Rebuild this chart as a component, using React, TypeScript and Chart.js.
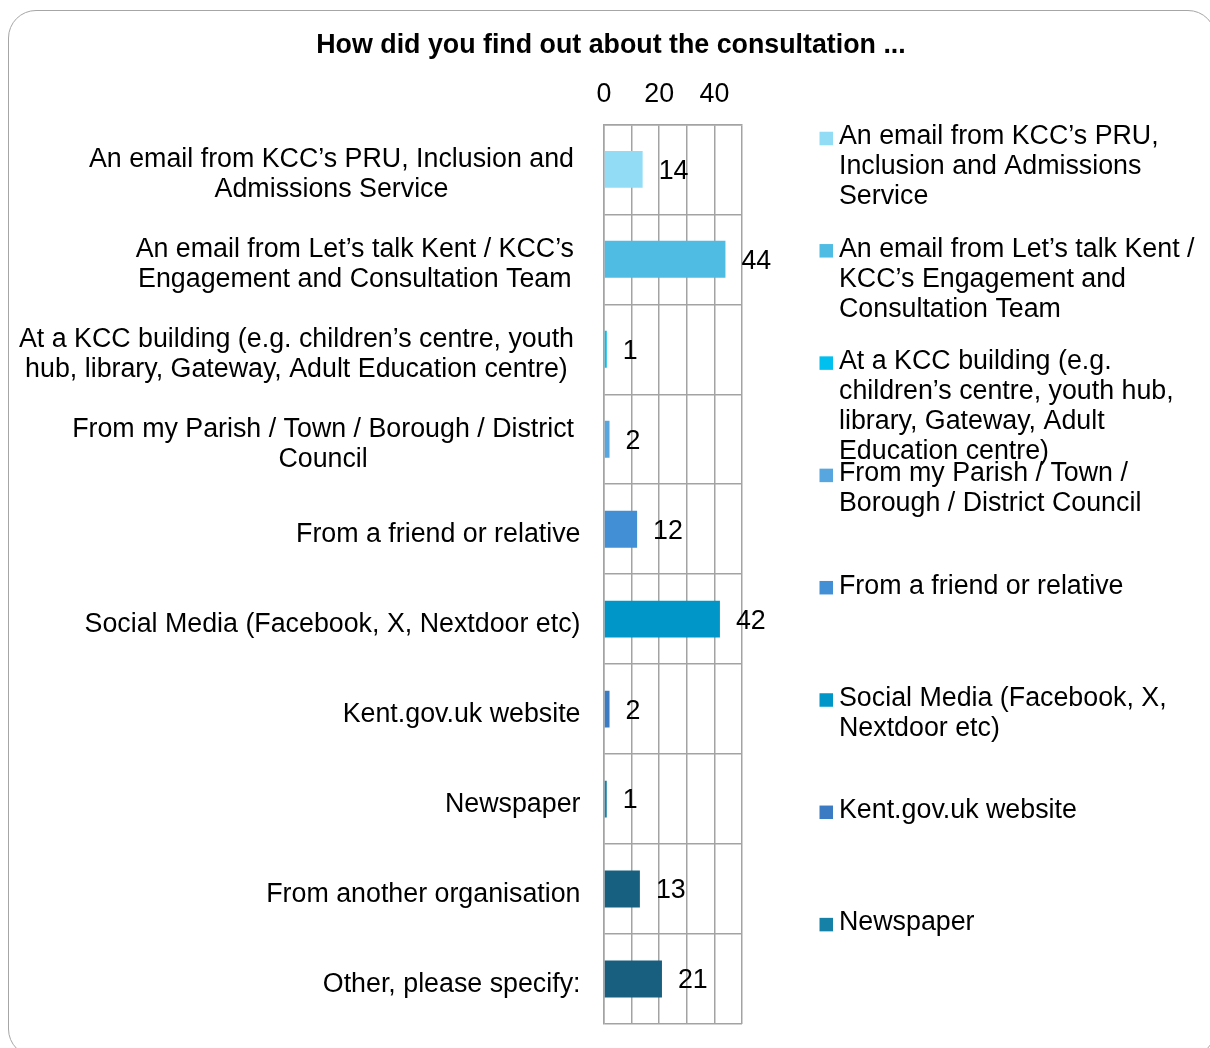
import React, { useEffect, useRef } from "react";
import { Chart, registerables } from "chart.js";

Chart.register(...registerables);

const TITLE = "How did you find out about the consultation ...";

const categories = [
  "An email from KCC’s PRU, Inclusion and Admissions Service",
  "An email from Let’s talk Kent / KCC’s Engagement and Consultation Team",
  "At a KCC building (e.g. children’s centre, youth hub, library, Gateway, Adult Education centre)",
  "From my Parish / Town / Borough / District Council",
  "From a friend or relative",
  "Social Media (Facebook, X, Nextdoor etc)",
  "Kent.gov.uk website",
  "Newspaper",
  "From another organisation",
  "Other, please specify:",
];

const axisLabelLines = [
  ["An email from KCC’s PRU, Inclusion and", "Admissions Service"],
  ["An email from Let’s talk Kent / KCC’s", "Engagement and Consultation Team"],
  ["At a KCC building (e.g. children’s centre, youth", "hub, library, Gateway, Adult Education centre)"],
  ["From my Parish / Town / Borough / District", "Council"],
  ["From a friend or relative"],
  ["Social Media (Facebook, X, Nextdoor etc)"],
  ["Kent.gov.uk website"],
  ["Newspaper"],
  ["From another organisation"],
  ["Other, please specify:"],
];

const legendLines = [
  ["An email from KCC’s PRU,", "Inclusion and Admissions", "Service"],
  ["An email from Let’s talk Kent /", "KCC’s Engagement and", "Consultation Team"],
  ["At a KCC building (e.g.", "children’s centre, youth hub,", "library, Gateway, Adult", "Education centre)"],
  ["From my Parish / Town /", "Borough / District Council"],
  ["From a friend or relative"],
  ["Social Media (Facebook, X,", "Nextdoor etc)"],
  ["Kent.gov.uk website"],
  ["Newspaper"],
];

const values = [14, 44, 1, 2, 12, 42, 2, 1, 13, 21];

const barColors = [
  "#93DCF6",
  "#4FBCE3",
  "#00C0F0",
  "#57A6E0",
  "#428FD5",
  "#0096C8",
  "#3B7BC3",
  "#1581A6",
  "#17607F",
  "#185E7E",
];

const xTicksShown = [0, 20, 40];
const X_MIN = 0;
const X_MAX = 50;
const X_STEP = 10;

const FONT = '"Liberation Sans", Arial, Helvetica, sans-serif';
const FS = 26.8;
const GRID = "#a3a3a3";

const overlayPlugin = {
  id: "overlay",
  afterDraw(chart: any) {
    const ctx = chart.ctx as CanvasRenderingContext2D;
    const yScale = chart.scales.y;
    ctx.save();
    ctx.fillStyle = "#000";
    ctx.textBaseline = "middle";

    // title
    ctx.font = `bold ${FS}px ${FONT}`;
    ctx.textAlign = "center";
    ctx.fillText(TITLE, 611, 46);

    // category labels
    ctx.font = `${FS}px ${FONT}`;
    axisLabelLines.forEach((lines, i) => {
      const cy = yScale.getPixelForValue(i) + 5.5;
      const n = lines.length;
      if (n === 1) {
        ctx.textAlign = "right";
        ctx.fillText(lines[0], 580.5, cy);
      } else {
        const w = Math.max(...lines.map((l) => ctx.measureText(l).width));
        const cx = 574 - w / 2;
        ctx.textAlign = "center";
        lines.forEach((l, k) => ctx.fillText(l, cx, cy + (k - (n - 1) / 2) * 30));
      }
    });

    // value labels
    const meta = chart.getDatasetMeta(0);
    ctx.textAlign = "left";
    meta.data.forEach((bar: any, i: number) => {
      ctx.fillText(String(values[i]), bar.x + 16, bar.y + 2);
    });

    // legend
    legendLines.forEach((lines, i) => {
      const top = 137 + i * 112.3;
      ctx.fillStyle = barColors[i];
      ctx.fillRect(819.5, top + 1.5 - 6.75, 13.5, 13.5);
      ctx.fillStyle = "#000";
      lines.forEach((l, k) => ctx.fillText(l, 839, top + k * 30));
    });

    ctx.restore();
  },
};

export default function App() {
  const canvasRef = useRef<HTMLCanvasElement | null>(null);

  useEffect(() => {
    document.body.style.overflow = "hidden";
    const canvas = canvasRef.current;
    if (!canvas) return;
    const chart = new Chart(canvas, {
      type: "bar",
      data: {
        labels: categories,
        datasets: [
          {
            data: values,
            backgroundColor: barColors,
            borderWidth: 0,
            barPercentage: 0.41,
            categoryPercentage: 1,
          },
        ],
      },
      options: {
        indexAxis: "y",
        responsive: false,
        animation: false,
        devicePixelRatio: 1,
        layout: { padding: { left: 604, right: 468, top: 64.2, bottom: 24 } },
        plugins: {
          legend: { display: false },
          title: { display: false },
          tooltip: { enabled: false },
        },
        scales: {
          x: {
            position: "top",
            min: X_MIN,
            max: X_MAX,
            ticks: {
              stepSize: X_STEP,
              autoSkip: false,
              maxRotation: 0,
              padding: 14,
              color: "#000",
              font: { family: FONT, size: FS },
              callback: (v: any) => (xTicksShown.includes(Number(v)) ? String(v) : ""),
            },
            grid: { color: GRID, lineWidth: 1.5, drawTicks: false },
            border: { color: GRID, width: 1.5 },
          },
          y: {
            ticks: { display: false },
            grid: { color: GRID, lineWidth: 1.5, drawTicks: false, offset: true },
            border: { color: GRID, width: 1.5 },
          },
        },
      },
      plugins: [overlayPlugin],
    });
    return () => chart.destroy();
  }, []);

  return (
    <div
      style={{
        position: "absolute",
        left: 0,
        top: 0,
        width: 1210,
        height: 1048,
        overflow: "hidden",
        background: "#fff",
      }}
    >
      <div
        style={{
          position: "absolute",
          left: 8,
          top: 10,
          width: 1208,
          height: 1047,
          boxSizing: "border-box",
          border: "1.5px solid #a6a6a6",
          borderRadius: 28,
        }}
      />
      <canvas
        ref={canvasRef}
        width={1210}
        height={1048}
        style={{ position: "absolute", left: 0, top: 0, width: 1210, height: 1048 }}
      />
    </div>
  );
}
